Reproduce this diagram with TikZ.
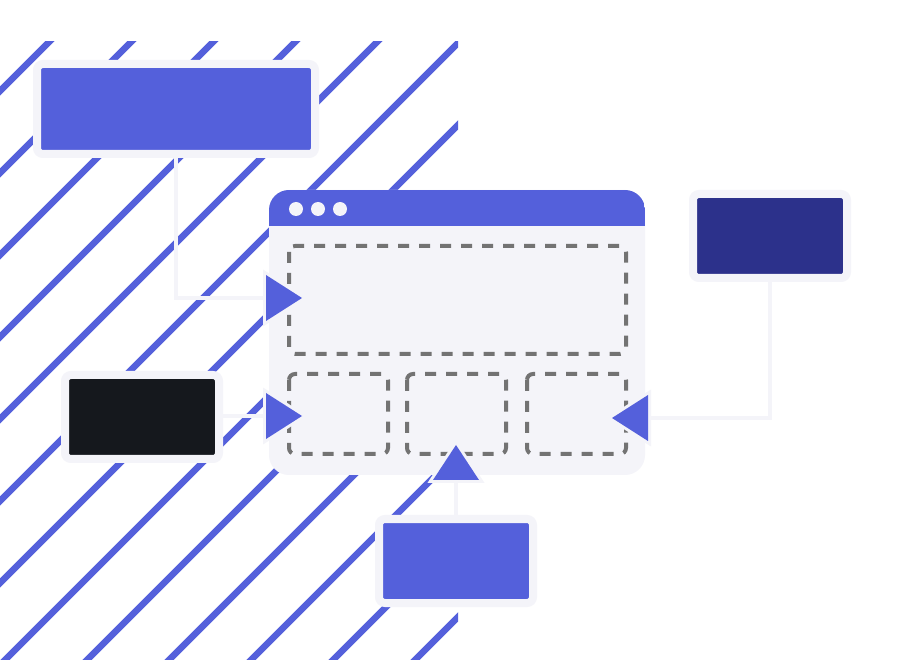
\documentclass[tikz,border=0pt]{standalone}
\pgfdeclarelayer{background}
\pgfsetlayers{background,main}
\begin{document}
\begin{tikzpicture}[x=1pt,y=-1pt]
\definecolor{brandblue}{RGB}{84,96,219}
\definecolor{navy}{RGB}{44,49,139}
\definecolor{ink}{RGB}{21,24,29}
\definecolor{pale}{RGB}{244,244,249}
\definecolor{dashgray}{RGB}{115,115,115}
\tikzset{
  card/.style={draw=pale, line width=8pt, rounded corners=6pt, inner sep=0pt, outer sep=0pt,
    minimum width=154pt, minimum height=84pt},
  link/.style={draw=pale, line width=4pt},
  slot/.style={draw=dashgray, line width=4pt, dash pattern=on 11pt off 10pt, rounded corners=6pt},
  pointer/.style={fill=brandblue, preaction={draw=pale, line width=6pt, line join=miter}},
  stripe/.style={draw=brandblue, line width=6.5pt}
}
\useasboundingbox (0,0) rectangle (914,660);
% cards
\node[card, fill=brandblue, minimum width=278pt, minimum height=90pt] (top) at (176,109) {};
\node[card, fill=ink] (dark) at (142,417) {};
\node[card, fill=brandblue] (bottom) at (456,561) {};
\node[card, fill=navy] (right) at (770,236) {};
% connector end coordinates (triangle bases)
\coordinate (t1) at (266,298);
\coordinate (t2) at (266,416);
\coordinate (t3) at (456,481);
\coordinate (t4) at (648,418);
\begin{pgfonlayer}{background}
  \fill[white] (0,0) rectangle (914,660);
  \begin{scope}
    \clip (0,42) rectangle (458,660);
    \foreach \k in {0,...,12} {
      \pgfmathsetmacro{\c}{91+82*\k}
      \draw[stripe] ({\c-700},700) -- ({\c+100},-100);
    }
  \end{scope}
  \draw[link] (top.south) |- (t1);
  \draw[link] (dark.east |- t2) -- (t2);
  \draw[link] (bottom.north) -- (t3);
  \draw[link] (right.south) |- (t4);
\end{pgfonlayer}
% window
\node[fill=pale, rounded corners=20pt, minimum width=376pt, minimum height=285pt, inner sep=0pt, outer sep=0pt] (win) at (457,332.5) {};
\begin{scope}
  \clip[rounded corners=20pt] (269,190) rectangle (645,475);
  \fill[brandblue] (269,190) rectangle (645,226);
\end{scope}
\foreach \x in {296,318,340} \fill[pale] (\x,209) circle (7pt);
\draw[slot] (289,246) rectangle (626,354);
\draw[slot] (289,374) rectangle (388,454);
\draw[slot] (407,374) rectangle (506,454);
\draw[slot] (527,374) rectangle (626,454);
% triangles
\path[pointer] (266,275) -- (302,298) -- (266,321) -- cycle;
\path[pointer] (266,393) -- (302,416) -- (266,439) -- cycle;
\path[pointer] (433,480) -- (456,445) -- (479,480) -- cycle;
\path[pointer] (648,395) -- (612,418) -- (648,441) -- cycle;
\end{tikzpicture}
\end{document}
